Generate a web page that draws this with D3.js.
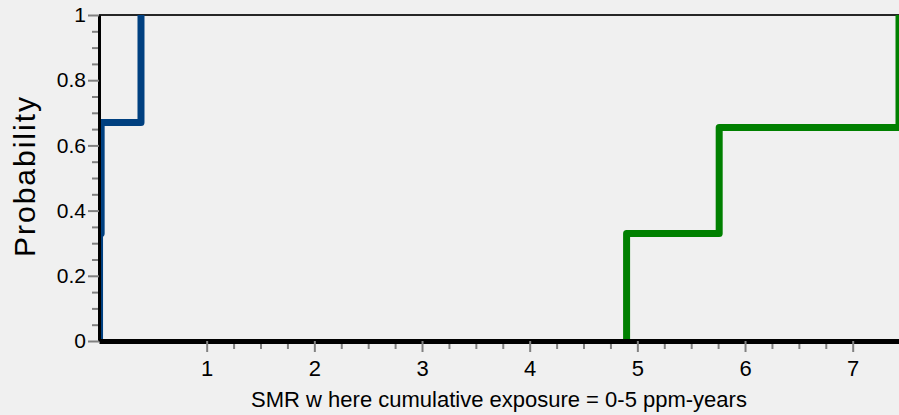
<!DOCTYPE html>
<html>
<head>
<meta charset="utf-8">
<script src="https://cdn.jsdelivr.net/npm/d3@7"></script>
<style>
  html, body { margin: 0; padding: 0; background: #f0f0f0; }
  svg { display: block; font-family: "Liberation Sans", Arial, sans-serif; }
</style>
</head>
<body>
<div class="js-vis"></div>
<script>
// step CDFs
const blueX = [0.005, 0.02, 0.39],
    blueP = [0.33, 0.67, 1]
const greenX = [4.9, 5.76, 7.43],
    greenP = [0.33, 0.655, 1]

const xTicks = [1, 2, 3, 4, 5, 6, 7],
    yTicks = [0, 0.2, 0.4, 0.6, 0.8, 1]

const xLabel = "SMR w here cumulative exposure = 0-5 ppm-years",
    yLabel = "Probability"

const W = 899, H = 415
const margin = { top: 15, right: 0, bottom: 74, left: 99 }

const svg = d3.select(".js-vis").append("svg")
    .attr("width", W)
    .attr("height", H)

svg.append("rect")
    .attr("width", W).attr("height", H)
    .attr("fill", "#f0f0f0")

const x = d3.scaleLinear()
  .domain([0, 7.43])
  .range([margin.left, W - margin.right])

const y = d3.scaleLinear()
  .domain([0, 1])
  .range([H - margin.bottom, margin.top])

svg.append("clipPath").attr("id", "plot")
  .append("rect")
    .attr("x", x(0)).attr("y", y(1))
    .attr("width", x(7.43) - x(0))
    .attr("height", y(0) - y(1))

// top frame line
svg.append("line")
    .attr("x1", x(0)).attr("x2", x(7.43))
    .attr("y1", y(1)).attr("y2", y(1))
    .attr("stroke", "#262626")
    .attr("stroke-width", 2)

function stepPoints(xs, ps) {
  return [[xs[0], 0]].concat(xs.map((v, i) => [v, ps[i]]))
}

const line = d3.line()
  .x(d => x(d[0]))
  .y(d => y(d[1]))
  .curve(d3.curveStepAfter)

const series = [
  { pts: stepPoints(blueX, blueP), color: "#004080" },
  { pts: stepPoints(greenX, greenP), color: "#008000" }
]

svg.append("g")
    .attr("clip-path", "url(#plot)")
  .selectAll("path")
  .data(series)
  .enter().append("path")
    .attr("d", d => line(d.pts))
    .attr("fill", "none")
    .attr("stroke", d => d.color)
    .attr("stroke-width", 7)
    .attr("stroke-linejoin", "round")

// minor ticks
const xMinor = d3.range(1, 7, 0.25).filter(v => v % 1 !== 0)
const yMinor = d3.range(0.05, 1, 0.05).filter(v => Math.abs(v * 5 - Math.round(v * 5)) > 1e-6)

svg.append("g")
    .attr("transform", "translate(0," + y(0) + ")")
    .call(d3.axisBottom(x).tickValues(xMinor).tickSize(8).tickFormat(""))
    .call(g => g.select(".domain").remove())

svg.append("g")
    .attr("transform", "translate(" + x(0) + ",0)")
    .call(d3.axisLeft(y).tickValues(yMinor).tickSize(7).tickFormat(""))
    .call(g => g.select(".domain").remove())

// major axes
const xax = svg.append("g")
    .attr("transform", "translate(0," + y(0) + ")")
    .call(d3.axisBottom(x).tickValues(xTicks).tickSize(11).tickSizeOuter(0).tickFormat(d3.format("")))

xax.selectAll(".tick text")
    .attr("y", 35).attr("dy", 0)

const yax = svg.append("g")
    .attr("transform", "translate(" + x(0) + ",0)")
    .call(d3.axisLeft(y).tickValues(yTicks).tickSize(11).tickPadding(2).tickSizeOuter(0).tickFormat(d3.format("")))

yax.selectAll(".tick text")
    .attr("dy", "0.32em")

svg.selectAll(".tick line")
    .attr("stroke", "#808080")
    .attr("stroke-width", 2)

xax.selectAll(".tick text")
    .attr("font-size", 22).attr("fill", "#000")
yax.selectAll(".tick text")
    .attr("font-size", 21).attr("fill", "#000")

xax.select(".domain")
    .attr("stroke", "#000")
    .attr("stroke-width", 5)
yax.select(".domain")
    .attr("stroke", "#000")
    .attr("stroke-width", 3)

// axis titles
svg.append("text")
    .attr("x", 499).attr("y", 407)
    .attr("text-anchor", "middle")
    .attr("font-size", 22)
    .attr("fill", "#000")
    .text(xLabel)

svg.append("text")
    .attr("transform", "translate(35,177) rotate(-90)")
    .attr("text-anchor", "middle")
    .attr("font-size", 30)
    .attr("fill", "#000")
    .attr("textLength", 160)
    .attr("lengthAdjust", "spacing")
    .text(yLabel)
</script>
</body>
</html>
